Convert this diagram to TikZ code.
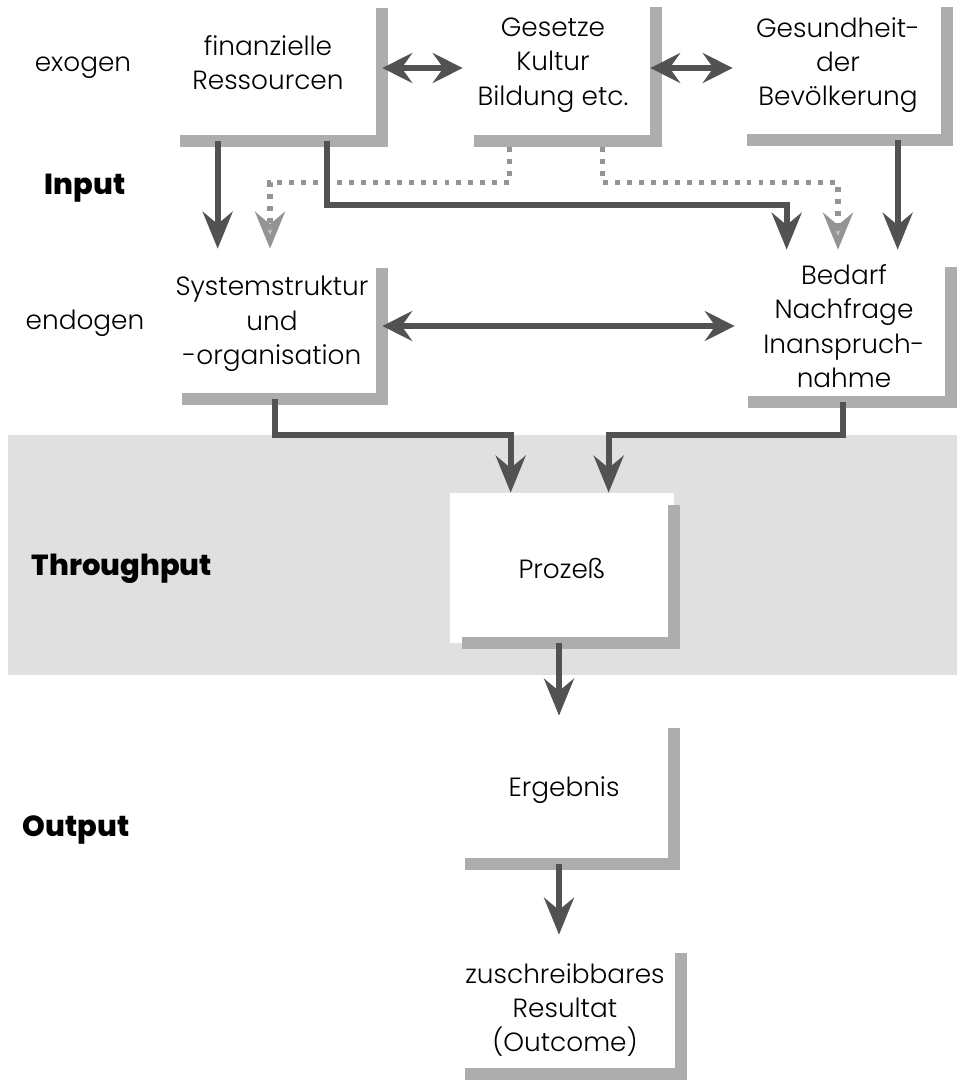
\documentclass[tikz,border=0pt]{standalone}
\usepackage{fontspec}
\setmainfont{Poppins}[UprightFont=* Light, BoldFont=* ExtraBold]
\usepackage{tikz}
\usetikzlibrary{arrows.meta}
\usetikzlibrary{calc}

\newcommand{\boxshadow}[3]{\draw[shadowline] ($(#1.north east)+(0,#2)$) -- (#1.south east) -- ($(#1.south west)+(#3,0)$);}

\begin{document}
\begin{tikzpicture}[x=0.02cm, y=-0.02cm,
	every node/.style={font=\fontsize{15pt}{19.5pt}\selectfont, align=center, inner sep=0pt},
	level/.style={font=\fontsize{16.5pt}{20pt}\selectfont\bfseries},
	box/.style n args={2}{minimum width=#1, minimum height=#2},
	shadowline/.style={draw=black!32, line width=6.8pt, line join=miter},
	flow/.style={draw=black!68, line width=3.3pt, -{Stealth[length=21pt, width=17pt, inset=7pt]}},
	twoway/.style={draw=black!68, line width=3.3pt, {Stealth[length=17pt, width=17pt, inset=6pt]}-{Stealth[length=17pt, width=17pt, inset=6pt]}},
	dotflow/.style={draw=black!42, line width=2.9pt, dash pattern=on 2.8pt off 4pt, -{Stealth[length=21pt, width=17pt, inset=7pt, fill=black!22]}}]
	\useasboundingbox (0,0) rectangle (959,1080);
	\fill[black!12] (8,435) rectangle (957,675);

	\node (exo) at (83,68) {exogen};
	\node[level] (inp) at (85,188) {Input};
	\node (endo) at (85,323) {endogen};
	\node[level] (thr) at (122,569) {Throughput};
	\node[level] (outp) at (76,830) {Output};

	\node[box={4.56cm}{3.12cm}] (fin) at (268,63) {finanzielle\\Ressourcen};
	\node[box={4.12cm}{3.04cm}] (ges) at (553,65) {Gesetze\\Kultur\\Bildung etc.};
	\node[box={4.36cm}{3.0cm}] (bev) at (838,65) {Gesundheit-\\der\\Bevölkerung};
	\node[box={4.4cm}{3.0cm}] (sys) at (272,324) {Systemstruktur\\und\\-organisation};
	\node[box={4.28cm}{3.04cm}] (bed) at (844,326) {Bedarf\\Nachfrage\\Inanspruch-\\nahme};
	\node[box={4.48cm}{3.0cm}, fill=white] (proz) at (562,568) {Prozeß};
	\node[box={4.4cm}{2.96cm}] (erg) at (564,790) {Ergebnis};
	\node[box={4.64cm}{2.56cm}] (res) at (565,1010) {zuschreibbares\\Resultat\\(Outcome)};

	\boxshadow{fin}{23}{26}
	\boxshadow{ges}{18}{24}
	\boxshadow{bev}{17}{18}
	\boxshadow{sys}{19}{20}
	\boxshadow{bed}{17}{11}
	\boxshadow{proz}{12}{12}
	\boxshadow{erg}{12}{11}
	\boxshadow{res}{7}{16}

	\coordinate (b1) at ($(ges.south west)+(60,6)$);
	\coordinate (b1t) at ($(sys.north)+(-2,0)$);
	\coordinate (b2) at ($(ges.south west)+(153,6)$);
	\coordinate (b2t) at ($(bed.north)+(-6,0)$);
	\draw[dotflow] (b1) |- ($(b1t)+(0,-66)$) -- (b1t);
	\draw[dotflow] (b2) |- ($(b2t)+(0,-67)$) -- (b2t);

	\coordinate (a1) at ($(fin.south west)+(64,0)$);
	\coordinate (a2) at ($(fin.south west)+(173,0)$);
	\coordinate (a2t) at ($(bed.north west)+(50,0)$);
	\coordinate (c1) at ($(bev.south west)+(169,0)$);
	\draw[flow] (a1) -- (a1 |- sys.north);
	\draw[flow] (a2) |- ($(a2t)+(0,-45)$) -- (a2t);
	\draw[flow] (c1) -- (c1 |- bed.north);

	\draw[twoway] ($(fin.east)+(0,5)$) -- ($(ges.west)+(13,3)$);
	\draw[twoway] ($(ges.east)+(-6,3)$) -- ($(bev.west)+(4,3)$);
	\draw[twoway] ($(sys.east)+(0,2)$) -- ($(bed.west)+(-2,0)$);

	\coordinate (s1) at ($(sys.south west)+(113,0)$);
	\coordinate (p1) at ($(proz.north west)+(61,0)$);
	\coordinate (d1) at ($(bed.south west)+(106,0)$);
	\coordinate (p2) at ($(proz.north west)+(159,0)$);
	\draw[flow] (s1) |- ($(p1)+(0,-58)$) -- (p1);
	\draw[flow] (d1) |- ($(p2)+(0,-58)$) -- (p2);

	\draw[flow] ($(proz.south)+(-3,0)$) -- ($(erg.north)+(-5,0)$);
	\draw[flow] ($(erg.south)+(-5,0)$) -- ($(res.north)+(-6,-11)$);
\end{tikzpicture}
\end{document}
